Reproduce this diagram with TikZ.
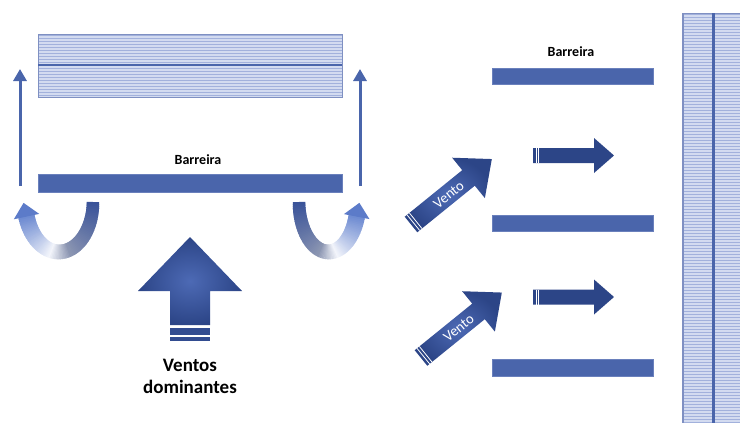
\documentclass[tikz,border=0pt]{standalone}
\usepackage{fontspec}
\setmainfont{Carlito}
\usetikzlibrary{arrows.meta}
\definecolor{bar}{HTML}{4A65AB}
\definecolor{barline}{HTML}{6A80BC}
\definecolor{hfill}{HTML}{D3DBF0}
\definecolor{hline}{HTML}{A2B1DC}
\definecolor{hedge}{HTML}{7F90C2}
\definecolor{adark}{HTML}{2C4587}
\definecolor{alight}{HTML}{4D6AB5}
\definecolor{udark}{HTML}{3A5399}
\definecolor{ugray}{HTML}{8C96B2}
\definecolor{uwhite}{HTML}{F3F5FB}
\definecolor{ulight}{HTML}{6F8CD2}
\definecolor{uhead}{HTML}{5C7BC9}
\tikzset{
  barrier/.style={rectangle, fill=bar, draw=barline, line width=0.5pt, inner sep=0pt},
  lbl/.style={font=\bfseries\fontsize{14}{16}\selectfont, inner sep=0pt},
  thinarrow/.style={draw=bar, line width=3pt, -{Triangle[width=13pt,length=12pt]}},
  bigshade/.style={inner color=alight, outer color=adark},
  hatchline/.style={draw=hline, line width=1.1pt},
}
\newcommand\uband[6]{%
  \foreach \i in {0,...,79}{%
    \pgfmathsetmacro\uA{#5+(#6-#5)*\i/80}%
    \pgfmathsetmacro\uB{#5+(#6-#5)*(\i+1.6)/80}%
    \pgfmathsetmacro\uW{12.5+4*\i/80}%
    \ifnum\i<36
      \pgfmathtruncatemacro\uP{100-100*\i/36}%
      \colorlet{segc}{udark!\uP!ugray}%
    \else\ifnum\i<50
      \pgfmathtruncatemacro\uP{100-100*(\i-36)/14}%
      \colorlet{segc}{ugray!\uP!uwhite}%
    \else
      \pgfmathtruncatemacro\uP{100*(\i-50)/29}%
      \colorlet{segc}{ulight!\uP!uwhite}%
    \fi\fi
    \draw[line width=\uW pt, segc] ({#1+#2*cos(\uA)},{#3+#4*sin(\uA)}) -- ({#1+#2*cos(\uB)},{#3+#4*sin(\uB)});
  }%
}
\begin{document}
\begin{tikzpicture}[x=1pt,y=-1pt]
\useasboundingbox (0,0) rectangle (740,423);

% ---------- top-left hatched block ----------
\fill[hfill] (38,34) rectangle (342,97);
\foreach \yy in {35.5,38.5,...,96} \draw[hatchline] (38,\yy) -- (342,\yy);
\draw[hedge, line width=0.7pt] (38,34) rectangle (342,97);
\draw[hedge, line width=1.6pt] (38.5,34) -- (38.5,97);
\draw[bar, line width=2pt] (38,65) -- (342,65);

% ---------- right hatched block ----------
\fill[hfill] (682,13) rectangle (741,424);
\foreach \yy in {14.5,17.5,...,423} \draw[hatchline] (682,\yy) -- (741,\yy);
\draw[hedge, line width=0.7pt] (682,13) -- (741,13);
\draw[hedge, line width=2pt] (683,13) -- (683,424);
\draw[bar, line width=2.6pt] (713.5,13) -- (713.5,424);

% ---------- left part ----------
\node[barrier, minimum width=304pt, minimum height=18pt] (b1) at (190,183) {};
\node[lbl] (t1) at (198,160) {Barreira};

\coordinate (la0) at (20,186); \coordinate (la1) at (20,69);
\coordinate (ra0) at (360,186); \coordinate (ra1) at (360,69);
\draw[thinarrow] (la0) -- (la1);
\draw[thinarrow] (ra0) -- (ra1);

% curved arrows
\uband{59}{34}{202}{50}{0}{163}
\begin{scope}[shift={(26.5,216.6)}, rotate=102]
  \fill[uhead] (0,-13) -- (14,0) -- (0,13) -- cycle;
\end{scope}
\uband{328.5}{29.5}{202}{50}{180}{17}
\begin{scope}[shift={(356.7,216.6)}, rotate=79]
  \fill[uhead] (0,-13) -- (14,0) -- (0,13) -- cycle;
\end{scope}

% big arrow
\shade[bigshade] (190,237) -- (242,291) -- (210,291) -- (210,325) -- (170,325) -- (170,291) -- (138,291) -- cycle;
\fill[adark!80!alight] (170,328) rectangle (210,335);
\fill[adark!80!alight] (170,337) rectangle (210,341);
\node[font=\bfseries\fontsize{19}{22}\selectfont, align=center, inner sep=0pt] (vd) at (190,376) {Ventos\\dominantes};

% ---------- right part ----------
\node[lbl] (t2) at (571,52) {Barreira};
\node[barrier, minimum width=161pt, minimum height=16pt] (b2) at (572.5,76) {};
\node[barrier, minimum width=161pt, minimum height=16pt] (b3) at (572.5,223) {};
\node[barrier, minimum width=161pt, minimum height=17pt] (b4) at (573,367.5) {};

% horizontal arrows
\foreach \dy in {0,141.5}{
  \begin{scope}[yshift=-\dy pt]
    \shade[left color=adark, middle color=alight, right color=adark]
      (533,148) -- (594,148) -- (594,138) -- (614,155.5) -- (594,173) -- (594,163) -- (533,163) -- cycle;
    \draw[white, line width=0.7pt] (536,148) -- (536,163);
    \draw[white, line width=0.7pt] (538.5,148) -- (538.5,163);
  \end{scope}
}

% diagonal arrows
\foreach \tx/\ty in {411/224.5, 421/358}{
  \begin{scope}[shift={(\tx,\ty)}, rotate=39]
    \shade[inner color=alight, outer color=adark]
      (0,-10) -- (74,-10) -- (74,-26) -- (104,0) -- (74,26) -- (74,10) -- (0,10) -- cycle;
    \draw[white, line width=0.8pt] (3,-10) -- (3,10);
    \draw[white, line width=0.8pt] (6,-10) -- (6,10);
    \node[text=white, font=\fontsize{14.5}{16}\selectfont, rotate=39, inner sep=0pt] at (48,0.5) {Vento};
  \end{scope}
}
\end{tikzpicture}
\end{document}
